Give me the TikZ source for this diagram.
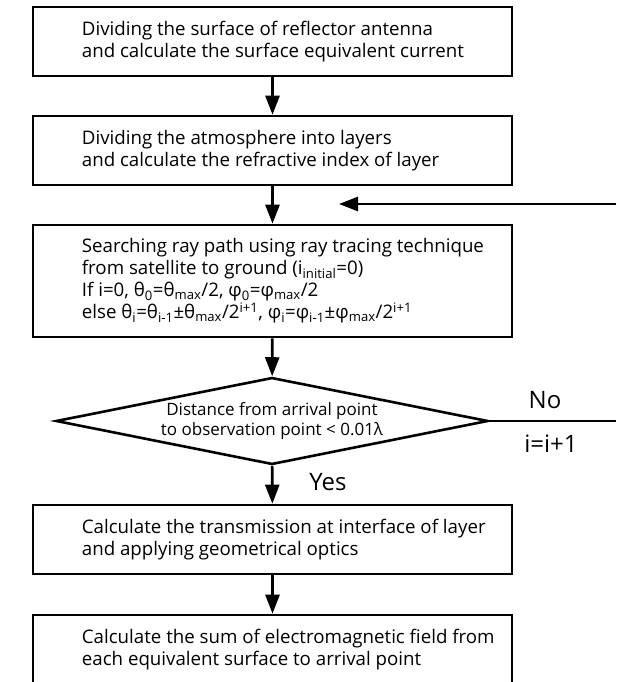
\documentclass[tikz,border=0pt]{standalone}
\usepackage{fontspec}
\setmainfont{Open Sans}
\usetikzlibrary{shapes.geometric,arrows.meta}
\begin{document}
\begin{tikzpicture}[x=1pt,y=-1pt,
  boxst/.style={draw, line width=2.6pt, minimum width=479pt, minimum height=69pt, inner sep=0pt},
  txt/.style={anchor=west, align=left, inner sep=0pt, font=\fontsize{18.7}{22}\selectfont},
  arr/.style={line width=2.6pt, -{Triangle[length=19pt,width=14pt]}},
  lbl/.style={font=\fontsize{24}{28}\selectfont, inner sep=0pt}]
\useasboundingbox (0,0) rectangle (616,682);
% boxes
\node[boxst] (b1) at (272.5,41.5) {};
\node[txt] (t1) at ([xshift=50pt]b1.west) {Dividing the surface of reflector antenna\\and calculate the surface equivalent current};
\node[boxst] (b2) at (272.5,150.5) {};
\node[txt] (t2) at ([xshift=50pt]b2.west) {Dividing the atmosphere into layers\\and calculate the refractive index of layer};
\node[boxst, minimum height=112pt] (b3) at (272.5,281) {};
\node[txt] (t3) at ([xshift=50pt]b3.west) {Searching ray path using ray tracing technique\\from satellite to ground (i\textsubscript{initial}=0)\\If i=0, θ\textsubscript{0}=θ\textsubscript{max}/2, φ\textsubscript{0}=φ\textsubscript{max}/2\\else θ\textsubscript{i}=θ\textsubscript{i-1}±θ\textsubscript{max}/2\textsuperscript{i+1}, φ\textsubscript{i}=φ\textsubscript{i-1}±φ\textsubscript{max}/2\textsuperscript{i+1}};
\node[draw, diamond, line width=2.6pt, aspect=4.97, minimum width=432pt, minimum height=87pt, inner sep=0pt, align=center, font=\fontsize{17}{20}\selectfont] (d) at (272,421) {Distance from arrival point\\to observation point < 0.01λ};
\node[boxst] (b4) at (272.5,539.5) {};
\node[txt] (t4) at ([xshift=50pt]b4.west) {Calculate the transmission at interface of layer\\and applying geometrical optics};
\node[boxst] (b5) at (272.5,649.5) {};
\node[txt] (t5) at ([xshift=50pt]b5.west) {Calculate the sum of electromagnetic field from\\each equivalent surface to arrival point};
% connectors
\draw[arr] (b1) -- (b2);
\draw[arr] (b2) -- (b3);
\draw[arr] (b3) -- (d);
\draw[arr] (d) -- (b4);
\draw[arr] (b4) -- (b5);
\coordinate (noend) at (616,421);
\draw[line width=2.4pt] (d.east) -- (noend);
\coordinate (fbstart) at (616,204);
\coordinate (fbend) at (339,204);
\draw[arr] (fbstart) -- (fbend);
% labels
\node[lbl] (no) at (545,400) {No};
\node[lbl] (inc) at (551,444) {i=i+1};
\node[lbl] (yes) at (328,482) {Yes};
\end{tikzpicture}
\end{document}
